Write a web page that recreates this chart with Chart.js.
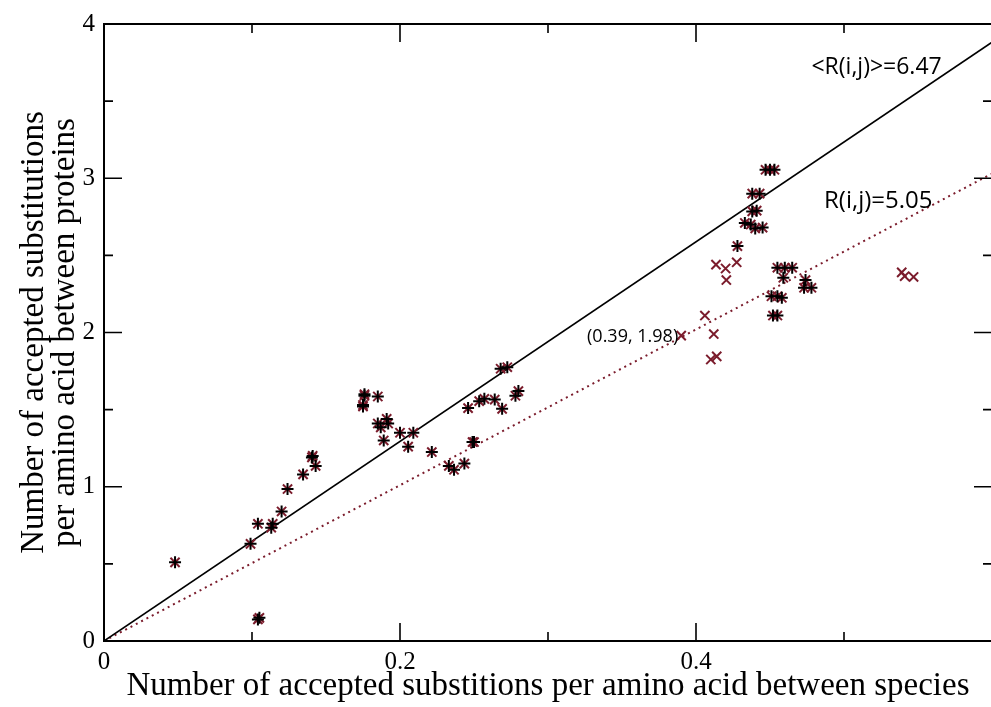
<!DOCTYPE html>
<html>
<head>
<meta charset="utf-8">
<script src="https://cdn.jsdelivr.net/npm/chart.js@4/dist/chart.umd.min.js"></script>
<style>
  html, body { margin: 0; padding: 0; background: #ffffff; overflow: hidden; }
  #wrap { width: 994px; height: 707px; }
</style>
</head>
<body>
<div id="wrap"><canvas id="c" width="994" height="707"></canvas></div>
<script>
// Substitutions per amino acid: between species (x) vs between proteins (y).
// Pairs that carry both the cross and the plus marker.
const pairedX = [
  0.048, 0.104, 0.105, 0.099, 0.104, 0.114, 0.113, 0.120, 0.124, 0.1345,
  0.1405, 0.141, 0.143, 0.176, 0.176, 0.175, 0.175, 0.185, 0.185, 0.187,
  0.191, 0.192, 0.189, 0.200, 0.209, 0.2055, 0.2215, 0.233, 0.2365, 0.2435,
  0.249, 0.250, 0.246, 0.2535, 0.257, 0.264, 0.269, 0.278, 0.280, 0.268,
  0.2725,
  0.447, 0.450, 0.453, 0.438, 0.443, 0.438, 0.441, 0.433, 0.437,
  0.440, 0.445, 0.428, 0.455, 0.460, 0.465, 0.459, 0.474, 0.473, 0.478,
  0.451, 0.455, 0.458, 0.452, 0.455
];
const pairedY = [
  0.51, 0.14, 0.15, 0.63, 0.76, 0.76, 0.735, 0.84, 0.985, 1.08,
  1.19, 1.20, 1.135, 1.60, 1.59, 1.52, 1.53, 1.585, 1.41, 1.385,
  1.44, 1.41, 1.30, 1.35, 1.35, 1.26, 1.225, 1.135, 1.11, 1.15,
  1.29, 1.29, 1.51, 1.555, 1.57, 1.565, 1.505, 1.59, 1.62, 1.765,
  1.775,
  3.055, 3.055, 3.055, 2.90, 2.90, 2.785, 2.79, 2.71, 2.70,
  2.675, 2.68, 2.56, 2.42, 2.42, 2.42, 2.355, 2.34, 2.29, 2.29,
  2.235, 2.235, 2.225, 2.11, 2.11
];
// Pairs shown with the cross marker only.
const crossOnlyX = [0.4135, 0.420, 0.4275, 0.4205, 0.539, 0.541, 0.547, 0.406, 0.412, 0.39, 0.410, 0.414];
const crossOnlyY = [2.44, 2.415, 2.455, 2.34, 2.39, 2.365, 2.36, 2.11, 1.99, 1.98, 1.825, 1.845];

// Ratios of the two reference lines through the origin.
const meanRatio = 6.47;
const fitRatio = 5.05;
const lineX = [0, 0.6];

const labelPoint = { x: 0.39, y: 1.98 };

const xTickLabels = [0, 0.2, 0.4];
const yTickLabels = [0, 1, 2, 3, 4];

const maroon = '#7b1c2c';

const toPts = (xs, ys) => xs.map((x, i) => ({ x: x, y: ys[i] }));

// Frame, inward tick marks on all four sides, and the text annotations.
const frameAndNotes = {
  id: 'frameAndNotes',
  afterDatasetsDraw(chart) {
    const { ctx, chartArea: a, scales: { x, y } } = chart;
    ctx.save();
    ctx.strokeStyle = '#000';
    ctx.lineWidth = 2;
    ctx.strokeRect(a.left, a.top, a.right - a.left, a.bottom - a.top);
    ctx.lineWidth = 1.6;
    ctx.beginPath();
    for (let k = 0; k <= 8; k++) {
      const v = k * 0.5;
      const py = y.getPixelForValue(v);
      const len = (k % 2 === 0) ? 18 : 9;
      ctx.moveTo(a.left, py); ctx.lineTo(a.left + len, py);
      ctx.moveTo(a.right, py); ctx.lineTo(a.right - len, py);
    }
    for (let k = 0; k <= 6; k++) {
      const v = k * 0.1;
      const px = x.getPixelForValue(v);
      const len = (k % 2 === 0) ? 18 : 9;
      ctx.moveTo(px, a.bottom); ctx.lineTo(px, a.bottom - len);
      ctx.moveTo(px, a.top); ctx.lineTo(px, a.top + len);
    }
    ctx.stroke();

    ctx.fillStyle = '#000';
    ctx.textBaseline = 'middle';
    ctx.textAlign = 'left';
    ctx.font = '23px "Open Sans"';
    ctx.fillText('<R(i,j)>=6.47', x.getPixelForValue(0.478), y.getPixelForValue(3.72));
    ctx.font = '24px "Open Sans"';
    ctx.fillText('R(i,j)=5.05', x.getPixelForValue(0.4865), y.getPixelForValue(2.85));
    ctx.textAlign = 'right';
    ctx.font = '18px "Open Sans"';
    ctx.fillText('(' + labelPoint.x + ', ' + labelPoint.y + ')',
      x.getPixelForValue(labelPoint.x) - 3, y.getPixelForValue(labelPoint.y) + 1);
    ctx.restore();
  }
};

new Chart(document.getElementById('c'), {
  type: 'scatter',
  data: {
    datasets: [
      {
        label: 'plus',
        data: toPts(pairedX, pairedY),
        pointStyle: 'cross',
        pointRadius: 6,
        pointBorderWidth: 2,
        borderColor: '#000',
        backgroundColor: '#000'
      },
      {
        label: 'cross',
        data: toPts(pairedX.concat(crossOnlyX), pairedY.concat(crossOnlyY)),
        pointStyle: 'crossRot',
        pointRadius: 6.5,
        pointBorderWidth: 2,
        borderColor: maroon,
        backgroundColor: maroon
      },
      {
        type: 'line',
        label: 'mean ratio',
        data: lineX.map(v => ({ x: v, y: meanRatio * v })),
        borderColor: '#000',
        borderWidth: 1.6,
        pointRadius: 0,
        fill: false
      },
      {
        type: 'line',
        label: 'fit ratio',
        data: lineX.map(v => ({ x: v, y: fitRatio * v })),
        borderColor: maroon,
        borderWidth: 2,
        borderDash: [2, 4],
        pointRadius: 0,
        fill: false
      }
    ]
  },
  options: {
    responsive: false,
    animation: false,
    layout: { autoPadding: false, padding: { top: 18, right: 2, left: 0, bottom: 0 } },
    plugins: { legend: { display: false }, tooltip: { enabled: false } },
    scales: {
      x: {
        type: 'linear',
        min: 0,
        max: 0.6,
        grid: { display: false, drawTicks: false },
        border: { display: false },
        afterBuildTicks: s => { s.ticks = xTickLabels.map(v => ({ value: v })); },
        afterFit: s => { s.height = 66; },
        ticks: {
          padding: 6,
          color: '#000',
          font: { family: '"Liberation Serif"', size: 25 },
          callback: v => String(v)
        },
        title: {
          display: true,
          text: 'Number of accepted substitions per amino acid between species',
          color: '#000',
          font: { family: '"Liberation Serif"', size: 33, lineHeight: 0.94 },
          padding: { top: 0, bottom: 5 }
        }
      },
      y: {
        type: 'linear',
        min: 0,
        max: 4,
        grid: { display: false, drawTicks: false },
        border: { display: false },
        afterBuildTicks: s => { s.ticks = yTickLabels.map(v => ({ value: v })); },
        afterFit: s => { s.width = 104; },
        ticks: {
          padding: 9,
          color: '#000',
          font: { family: '"Liberation Serif"', size: 25 },
          callback: v => String(v)
        },
        title: {
          display: true,
          text: ['Number of accepted substitutions', 'per amino acid between proteins'],
          color: '#000',
          font: { family: '"Liberation Serif"', size: 33, lineHeight: 0.94 },
          padding: { top: 19, bottom: 0 }
        }
      }
    }
  },
  plugins: [frameAndNotes]
});
</script>
</body>
</html>
